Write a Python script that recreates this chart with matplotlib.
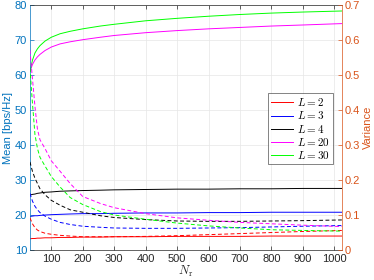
import matplotlib
matplotlib.use("Agg")
import matplotlib.pyplot as plt

plt.rcParams["font.family"] = ["Liberation Sans", "DejaVu Sans"]
plt.rcParams["mathtext.fontset"] = "cm"

Nr = [32, 40, 48, 56, 64, 80, 100, 128, 160, 200, 256, 300, 400, 500, 600, 700, 800, 900, 1024]

labels = ["$L = 2$", "$L = 3$", "$L = 4$", "$L = 20$", "$L = 30$"]
colors = ["#ff0000", "#0000ff", "#000000", "#ff00ff", "#00ff00"]

mean_L2 = [13.2, 13.3, 13.3, 13.4, 13.4, 13.5, 13.5, 13.6, 13.6, 13.7, 13.7, 13.8, 13.8, 13.9, 13.9, 13.9, 14.0, 14.0, 14.0]
mean_L3 = [19.6, 19.7, 19.8, 19.8, 19.9, 20.0, 20.1, 20.2, 20.3, 20.4, 20.4, 20.5, 20.6, 20.6, 20.7, 20.7, 20.8, 20.8, 20.8]
mean_L4 = [25.7, 25.9, 26.0, 26.2, 26.3, 26.5, 26.6, 26.8, 26.9, 27.0, 27.1, 27.2, 27.3, 27.4, 27.4, 27.5, 27.5, 27.6, 27.6]
mean_L20 = [61.0, 63.0, 64.3, 65.2, 65.9, 67.0, 68.0, 68.9, 69.5, 70.1, 70.8, 71.3, 72.1, 72.7, 73.2, 73.6, 74.0, 74.3, 74.7]
mean_L30 = [61.0, 64.2, 66.3, 67.5, 68.4, 69.7, 70.8, 71.8, 72.5, 73.2, 74.0, 74.5, 75.5, 76.2, 76.8, 77.3, 77.7, 78.0, 78.3]

var_L2 = [0.092, 0.075, 0.064, 0.057, 0.053, 0.048, 0.045, 0.042, 0.040, 0.038, 0.038, 0.038, 0.039, 0.041, 0.044, 0.047, 0.050, 0.053, 0.056]
var_L3 = [0.162, 0.140, 0.125, 0.115, 0.107, 0.097, 0.088, 0.079, 0.073, 0.068, 0.065, 0.063, 0.062, 0.062, 0.063, 0.064, 0.066, 0.068, 0.070]
var_L4 = [0.252, 0.225, 0.205, 0.190, 0.175, 0.158, 0.142, 0.128, 0.115, 0.108, 0.098, 0.093, 0.087, 0.083, 0.082, 0.082, 0.083, 0.084, 0.086]
var_L20 = [0.571, 0.490, 0.410, 0.345, 0.315, 0.290, 0.255, 0.225, 0.190, 0.153, 0.133, 0.121, 0.104, 0.092, 0.085, 0.079, 0.075, 0.071, 0.067]
var_L30 = [0.520, 0.420, 0.330, 0.290, 0.265, 0.240, 0.210, 0.180, 0.150, 0.130, 0.110, 0.100, 0.088, 0.077, 0.069, 0.063, 0.058, 0.056, 0.054]

means = [mean_L2, mean_L3, mean_L4, mean_L20, mean_L30]
variances = [var_L2, var_L3, var_L4, var_L20, var_L30]

left_col = (0.0, 0.447, 0.741)
right_col = (0.85, 0.325, 0.098)
tick_col = "#262626"

fig = plt.figure(figsize=(3.74, 2.8), dpi=100)
ax = fig.add_axes([0.080, 0.107, 0.834, 0.875])
ax2 = ax.twinx()

handles = []
for m, c, lab in zip(means, colors, labels):
    h, = ax.plot(Nr, m, color=c, lw=0.7, label=lab)
    handles.append(h)
for v, c in zip(variances, colors):
    ax2.plot(Nr, v, color=c, lw=0.7, linestyle=(0, (4, 2.5)))

ax.set_xlim(32, 1024)
ax.set_ylim(10, 80)
ax2.set_ylim(0, 0.7)
ax.set_xticks(range(100, 1001, 100))
ax.set_yticks(range(10, 81, 10))
ax2.set_yticks([0, 0.1, 0.2, 0.3, 0.4, 0.5, 0.6, 0.7])
ax2.set_yticklabels(["0", "0.1", "0.2", "0.3", "0.4", "0.5", "0.6", "0.7"])

ax.grid(True, color="#e6e6e6", lw=0.5)
ax.set_axisbelow(True)

ax.tick_params(axis="x", direction="in", length=3, width=0.5, labelsize=8, colors=tick_col, pad=3, top=True)
ax.tick_params(axis="y", direction="in", length=3, width=0.5, labelsize=8, colors=left_col, pad=2)
ax2.tick_params(axis="y", direction="in", length=3, width=0.5, labelsize=8, colors=right_col, pad=2)

for s in ["top", "bottom"]:
    ax.spines[s].set_color(tick_col)
    ax.spines[s].set_linewidth(0.5)
    ax2.spines[s].set_visible(False)
ax.spines["left"].set_color(left_col)
ax.spines["left"].set_linewidth(0.5)
ax2.spines["right"].set_color(right_col)
ax2.spines["right"].set_linewidth(0.5)
ax2.spines["left"].set_visible(False)
ax.spines["right"].set_visible(False)

ax.set_xlabel("$N_\\mathrm{r}$", fontsize=9, color=tick_col, labelpad=0)
ax.set_ylabel("Mean [bps/Hz]", fontsize=8, color=left_col, labelpad=1)
ax2.set_ylabel("Variance", fontsize=8, color=right_col, labelpad=2)

leg = ax2.legend(handles=handles, loc="upper right", bbox_to_anchor=(0.971, 0.641),
                 fontsize=8, frameon=True, fancybox=False, handlelength=2.0,
                 handletextpad=0.3, borderpad=0.3, labelspacing=0.1, borderaxespad=0)
leg.get_frame().set_edgecolor("#262626")
leg.get_frame().set_linewidth(0.5)

fig.savefig("out.png", dpi=100)
